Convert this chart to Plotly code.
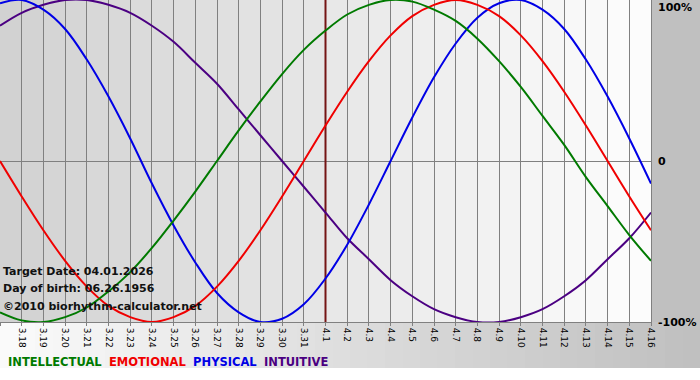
import plotly.graph_objects as go

# ---- data ----
dates = ["3.17", "3.18", "3.19", "3.20", "3.21", "3.22", "3.23", "3.24", "3.25", "3.26",
         "3.27", "3.28", "3.29", "3.30", "3.31", "4.1", "4.2", "4.3", "4.4", "4.5",
         "4.6", "4.7", "4.8", "4.9", "4.10", "4.11", "4.12", "4.13", "4.14", "4.15", "4.16"]

intellectual = [-94, -99, -100, -97, -91, -81, -69, -54, -37, -19, 0, 19, 37, 54, 69, 81,
                91, 97, 100, 99, 94, 87, 76, 62, 46, 28, 10, -10, -28, -46, -62]
emotional = [0, -22, -43, -62, -78, -90, -97, -100, -97, -90, -78, -62, -43, -22, 0, 22,
             43, 62, 78, 90, 97, 100, 97, 90, 78, 62, 43, 22, 0, -22, -43]
physical = [98, 100, 94, 82, 63, 40, 14, -14, -40, -63, -82, -94, -100, -98, -89, -73,
            -52, -27, 0, 27, 52, 73, 89, 98, 100, 94, 82, 63, 40, 14, -14]
intuitive = [84, 92, 97, 100, 100, 97, 92, 84, 74, 61, 48, 32, 16, 0, -16, -32,
             -48, -61, -74, -84, -92, -97, -100, -100, -97, -92, -84, -74, -61, -48, -32]

series_names = ["INTELLECTUAL", "EMOTIONAL", "PHYSICAL", "INTUITIVE"]
series_colors = ["#007a00", "#f00000", "#0000e6", "#4b0082"]
target_label = "4.1"
y_tick_vals = [100, 0, -100]
y_tick_text = ["100%", "0", "-100%"]
info_lines = ["Target Date: 04.01.2026", "Day of birth: 06.26.1956", "\u00a92010 biorhythm-calculator.net"]

FONT = "DejaVu Sans"
W, H = 700, 380
ML, MR, MT, MB = 0, 49, 0, 58
PW = W - ML - MR
PH = H - MT - MB

x = list(range(len(dates)))
ti = dates.index(target_label)

fig = go.Figure()
# target date line (drawn first so curves pass over it)
fig.add_trace(go.Scatter(x=[ti, ti], y=[y_tick_vals[-1], y_tick_vals[0]], mode="lines",
                         line=dict(color="#741414", width=2), hoverinfo="skip", name="target"))
data_map = dict(zip(series_names, [intellectual, emotional, physical, intuitive]))
color_map = dict(zip(series_names, series_colors))
for name in ["INTUITIVE", "PHYSICAL", "EMOTIONAL", "INTELLECTUAL"]:
    fig.add_trace(go.Scatter(x=x, y=data_map[name], mode="lines", name=name,
                             line=dict(color=color_map[name], width=2, shape="spline", smoothing=1.0),
                             hoverinfo="skip"))

shapes = []


def mix(c1, c2, t):
    r = round(c1[0] + (c2[0] - c1[0]) * t)
    g = round(c1[1] + (c2[1] - c1[1]) * t)
    b = round(c1[2] + (c2[2] - c1[2]) * t)
    return f"rgb({r},{g},{b})"


# outer background: right panel
shapes.append(dict(type="rect", xref="paper", yref="paper", x0=1, x1=W / PW, y0=-(368 - PH) / PH, y1=1,
                   fillcolor="#c0c0c0", line=dict(width=0), layer="below"))
# bottom gradient band
n = 40
for i in range(n):
    x0 = i * W / n
    x1 = (i + 1) * W / n + 0.5
    shapes.append(dict(type="rect", xref="paper", yref="paper", x0=x0 / PW, x1=x1 / PW,
                       y0=-(368 - PH) / PH, y1=0,
                       fillcolor=mix((250, 250, 250), (192, 192, 192), i / (n - 1)),
                       line=dict(width=0), layer="below"))
# plot area day stripes
nd = len(dates) - 1
for i in range(nd):
    shapes.append(dict(type="rect", xref="x", yref="paper", x0=i, x1=i + 1, y0=0, y1=1,
                       fillcolor=mix((210, 210, 210), (252, 252, 252), i / (nd - 1)),
                       line=dict(width=0), layer="below"))

annotations = []
for v, t in zip(y_tick_vals, y_tick_text):
    ys = 0
    if v == 100:
        ys = -7
    annotations.append(dict(x=1, xref="paper", y=v, yref="y", text=f"<b>{t}</b>", showarrow=False,
                            xanchor="left", xshift=5, yshift=ys, font=dict(family=FONT, size=11, color="#000")))
for k, t in enumerate(info_lines):
    annotations.append(dict(x=0, xref="paper", y=(PH - (271 + k * 17.5)) / PH, yref="paper",
                            text=f"<b>{t}</b>", showarrow=False, xanchor="left", yanchor="middle", xshift=1,
                            font=dict(family=FONT, size=11, color="#111")))
legend_html = "  ".join(f"<span style='color:{c}'><b>{n_}</b></span>" for n_, c in zip(series_names, series_colors))
annotations.append(dict(x=0, xref="paper", y=-(362 - PH) / PH, yref="paper", text=legend_html,
                        showarrow=False, xanchor="left", yanchor="middle", xshift=6,
                        font=dict(family=FONT, size=11.5)))

fig.update_layout(
    width=W, height=H,
    margin=dict(l=ML, r=MR, t=MT, b=MB, pad=0),
    paper_bgcolor="#ffffff",
    plot_bgcolor="#e8e8e8",
    showlegend=False,
    shapes=shapes,
    annotations=annotations,
    font=dict(family=FONT),
    xaxis=dict(range=[0, nd], tickmode="array", tickvals=x, ticktext=dates, tickangle=90,
               tickfont=dict(family=FONT, size=9, color="#000"),
               showgrid=True, gridcolor="#808080", gridwidth=1,
               ticks="outside", ticklen=3, tickcolor="#808080",
               showline=True, linecolor="#808080", linewidth=1, zeroline=False, fixedrange=True),
    yaxis=dict(range=[-100, 100], side="right", showticklabels=False, showgrid=False,
               zeroline=True, zerolinecolor="#808080", zerolinewidth=1,
               showline=True, linecolor="#808080", linewidth=1, ticks="", fixedrange=True),
)

fig.write_html("out.html", config={"displayModeBar": False})
